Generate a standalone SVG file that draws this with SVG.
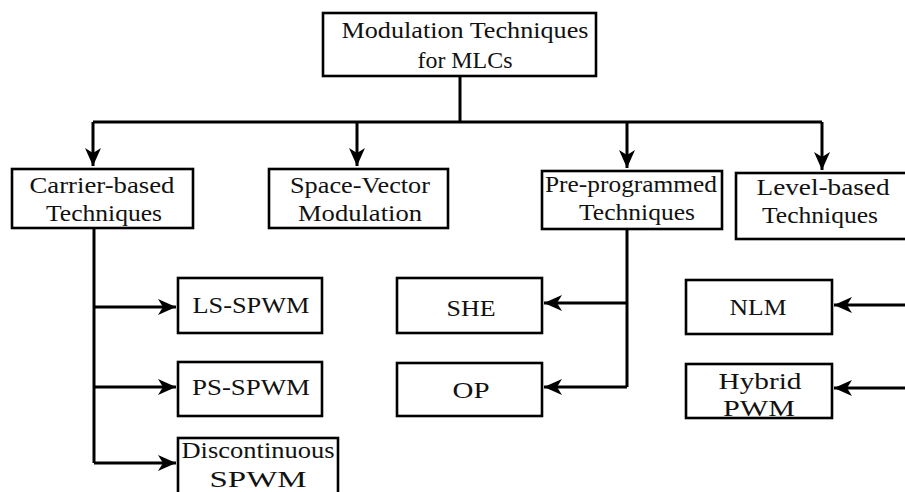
<svg xmlns="http://www.w3.org/2000/svg" width="905" height="492" viewBox="0 0 905 492">
<defs>
<style>
.box{fill:#fff;stroke:#000;stroke-width:2.6}
.ln{fill:none;stroke:#000;stroke-width:3}
.t{font-family:"Liberation Serif","Times New Roman",serif;font-size:23px;fill:#111;text-anchor:middle}
</style>
<marker id="ah" markerUnits="userSpaceOnUse" markerWidth="20" markerHeight="18" viewBox="-19 -9 20 18" refX="0" refY="0" orient="auto">
<path d="M0,0 L-18,-8 L-13,0 L-18,8 Z" fill="#000"/>
</marker>
</defs>
<g id="connectors">
<path class="ln" d="M460,76 V122"/>
<path class="ln" d="M93,122 H822"/>
<path class="ln" d="M93,122 V166" marker-end="url(#ah)"/>
<path class="ln" d="M357,122 V166" marker-end="url(#ah)"/>
<path class="ln" d="M627,122 V168" marker-end="url(#ah)"/>
<path class="ln" d="M822,122 V170" marker-end="url(#ah)"/>
<path class="ln" d="M94,228 V463"/>
<path class="ln" d="M94,307 H176" marker-end="url(#ah)"/>
<path class="ln" d="M94,387 H176" marker-end="url(#ah)"/>
<path class="ln" d="M94,463 H176" marker-end="url(#ah)"/>
<path class="ln" d="M627,229 V387"/>
<path class="ln" d="M627,303 H544" marker-end="url(#ah)"/>
<path class="ln" d="M627,387 H544" marker-end="url(#ah)"/>
<path class="ln" d="M906,305 H834" marker-end="url(#ah)"/>
<path class="ln" d="M906,388 H834" marker-end="url(#ah)"/>
</g>
<g id="root">
<rect class="box" x="323" y="13" width="273" height="63"/>
<text class="t" x="465" y="38" textLength="247" lengthAdjust="spacingAndGlyphs">Modulation Techniques</text>
<text class="t" x="465" y="68" textLength="95" lengthAdjust="spacingAndGlyphs">for MLCs</text>
</g>
<g id="carrier">
<rect class="box" x="12" y="169" width="181" height="59"/>
<text class="t" x="102" y="193" textLength="145" lengthAdjust="spacingAndGlyphs">Carrier-based</text>
<text class="t" x="104" y="221" textLength="116" lengthAdjust="spacingAndGlyphs">Techniques</text>
</g>
<g id="svm">
<rect class="box" x="269" y="169" width="179" height="59"/>
<text class="t" x="360" y="193" textLength="140" lengthAdjust="spacingAndGlyphs">Space-Vector</text>
<text class="t" x="360" y="221" textLength="124" lengthAdjust="spacingAndGlyphs">Modulation</text>
</g>
<g id="preprog">
<rect class="box" x="542" y="171" width="180" height="58"/>
<text class="t" x="631" y="192" textLength="172" lengthAdjust="spacingAndGlyphs">Pre-programmed</text>
<text class="t" x="637" y="220" textLength="116" lengthAdjust="spacingAndGlyphs">Techniques</text>
</g>
<g id="level">
<rect class="box" x="736" y="173" width="172" height="66"/>
<text class="t" x="823" y="195" textLength="133" lengthAdjust="spacingAndGlyphs">Level-based</text>
<text class="t" x="820" y="223" textLength="116" lengthAdjust="spacingAndGlyphs">Techniques</text>
</g>
<g id="ls">
<rect class="box" x="178" y="278" width="144" height="55"/>
<text class="t" x="251" y="313" textLength="117" lengthAdjust="spacingAndGlyphs">LS-SPWM</text>
</g>
<g id="ps">
<rect class="box" x="178" y="362" width="144" height="54"/>
<text class="t" x="251" y="395" textLength="118" lengthAdjust="spacingAndGlyphs">PS-SPWM</text>
</g>
<g id="disc">
<rect class="box" x="178" y="438" width="160" height="64"/>
<text class="t" x="258" y="458" textLength="153" lengthAdjust="spacingAndGlyphs">Discontinuous</text>
<text class="t" x="258" y="487" textLength="97" lengthAdjust="spacingAndGlyphs">SPWM</text>
</g>
<g id="she">
<rect class="box" x="397" y="278" width="145" height="55"/>
<text class="t" x="471" y="316" textLength="49" lengthAdjust="spacingAndGlyphs">SHE</text>
</g>
<g id="op">
<rect class="box" x="397" y="363" width="145" height="53"/>
<text class="t" x="471" y="398" textLength="37" lengthAdjust="spacingAndGlyphs">OP</text>
</g>
<g id="nlm">
<rect class="box" x="686" y="280" width="146" height="54"/>
<text class="t" x="758" y="315" textLength="57" lengthAdjust="spacingAndGlyphs">NLM</text>
</g>
<g id="hybrid">
<rect class="box" x="686" y="364" width="146" height="54"/>
<text class="t" x="760" y="389" textLength="83" lengthAdjust="spacingAndGlyphs">Hybrid</text>
<text class="t" x="759" y="416" textLength="72" lengthAdjust="spacingAndGlyphs">PWM</text>
</g>
</svg>
